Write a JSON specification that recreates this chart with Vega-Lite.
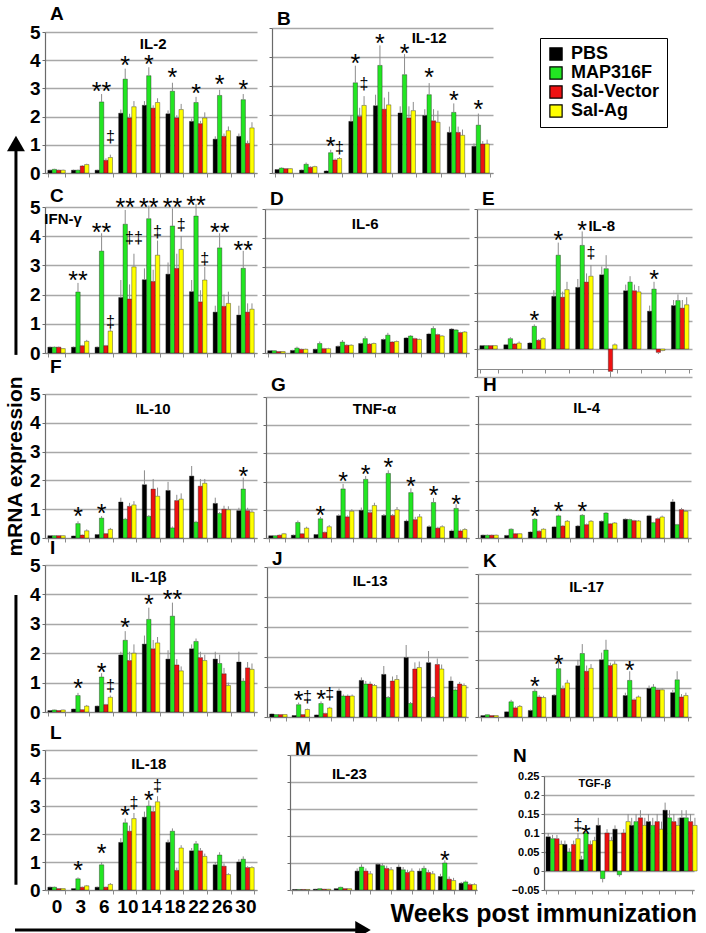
{
"$schema":"https://vega.github.io/schema/vega-lite/v6.json",
"background":"#ffffff",
"padding":{"left":4,"top":5,"right":0,"bottom":0},
"bounds":"flush",
"spacing":0,
"config":{
"font":"Liberation Sans",
"view":{"stroke":null},
"axis":{"labelFont":"Liberation Sans","labelFontWeight":"bold","labelColor":"#000000","titleFont":"Liberation Sans","titleFontWeight":"bold","titleColor":"#000000","labelOverlap":false},
"axisX":{"tickBand":"extent","tickSize":4,"labelFontSize":19,"labelAngle":0,"labelPadding":3,"domainColor":"#8a8a8a","tickColor":"#8a8a8a","grid":false},
"axisY":{"grid":true,"gridColor":"#a8a8a8","gridWidth":1.5,"tickSize":3,"labelFontSize":19,"labelPadding":2,"domainColor":"#6a6a6a","tickColor":"#6a6a6a","domainWidth":1.2,"labelOverlap":false},
"title":{"anchor":"start","font":"Liberation Sans","fontSize":19,"fontWeight":"bold","color":"#000000","offset":-1,"dx":5,"frame":"group"},
"text":{"font":"Liberation Sans","color":"#000000"},
"legend":{"orient":"none","legendX":495,"legendY":10,"strokeColor":"#000000","padding":7,"symbolType":"square","symbolSize":150,"symbolStrokeColor":"#000000","symbolStrokeWidth":1.2,"labelFont":"Liberation Sans","labelFontSize":18,"labelFontWeight":"bold","labelColor":"#000000","labelOffset":6,"rowPadding":1}
},
"datasets":{
"bars":[
{"p":"A","w":0,"g":"PBS","v":0.1,"h":0.12},{"p":"A","w":0,"g":"MAP316F","v":0.13,"h":0.15},{"p":"A","w":0,"g":"Sal-Vector","v":0.1,"h":0.12},{"p":"A","w":0,"g":"Sal-Ag","v":0.1,"h":0.12},
{"p":"A","w":3,"g":"PBS","v":0.1,"h":0.12},{"p":"A","w":3,"g":"MAP316F","v":0.1,"h":0.12},{"p":"A","w":3,"g":"Sal-Vector","v":0.25,"h":0.28},{"p":"A","w":3,"g":"Sal-Ag","v":0.3,"h":0.33},
{"p":"A","w":6,"g":"PBS","v":0.1,"h":0.12},{"p":"A","w":6,"g":"MAP316F","v":2.52,"h":2.8},{"p":"A","w":6,"g":"Sal-Vector","v":0.45,"h":0.52},{"p":"A","w":6,"g":"Sal-Ag","v":0.55,"h":0.65},
{"p":"A","w":10,"g":"PBS","v":2.12,"h":2.25},{"p":"A","w":10,"g":"MAP316F","v":3.33,"h":3.7},{"p":"A","w":10,"g":"Sal-Vector","v":1.95,"h":2.1},{"p":"A","w":10,"g":"Sal-Ag","v":2.35,"h":2.55},
{"p":"A","w":14,"g":"PBS","v":2.4,"h":2.55},{"p":"A","w":14,"g":"MAP316F","v":3.45,"h":3.75},{"p":"A","w":14,"g":"Sal-Vector","v":2.3,"h":2.4},{"p":"A","w":14,"g":"Sal-Ag","v":2.5,"h":2.65},
{"p":"A","w":18,"g":"PBS","v":2.1,"h":2.22},{"p":"A","w":18,"g":"MAP316F","v":2.9,"h":3.2},{"p":"A","w":18,"g":"Sal-Vector","v":1.95,"h":2.05},{"p":"A","w":18,"g":"Sal-Ag","v":2.25,"h":2.45},
{"p":"A","w":22,"g":"PBS","v":1.83,"h":1.93},{"p":"A","w":22,"g":"MAP316F","v":2.5,"h":2.7},{"p":"A","w":22,"g":"Sal-Vector","v":1.75,"h":1.85},{"p":"A","w":22,"g":"Sal-Ag","v":1.95,"h":2.15},
{"p":"A","w":26,"g":"PBS","v":1.2,"h":1.3},{"p":"A","w":26,"g":"MAP316F","v":2.75,"h":2.95},{"p":"A","w":26,"g":"Sal-Vector","v":1.3,"h":1.4},{"p":"A","w":26,"g":"Sal-Ag","v":1.5,"h":1.65},
{"p":"A","w":30,"g":"PBS","v":1.3,"h":1.4},{"p":"A","w":30,"g":"MAP316F","v":2.6,"h":2.8},{"p":"A","w":30,"g":"Sal-Vector","v":1.05,"h":1.15},{"p":"A","w":30,"g":"Sal-Ag","v":1.6,"h":1.8},
{"p":"B","w":0,"g":"PBS","v":0.12,"h":0.14},{"p":"B","w":0,"g":"MAP316F","v":0.17,"h":0.19},{"p":"B","w":0,"g":"Sal-Vector","v":0.15,"h":0.17},{"p":"B","w":0,"g":"Sal-Ag","v":0.15,"h":0.17},
{"p":"B","w":3,"g":"PBS","v":0.1,"h":0.12},{"p":"B","w":3,"g":"MAP316F","v":0.3,"h":0.36},{"p":"B","w":3,"g":"Sal-Vector","v":0.2,"h":0.23},{"p":"B","w":3,"g":"Sal-Ag","v":0.22,"h":0.25},
{"p":"B","w":6,"g":"PBS","v":0.07,"h":0.09},{"p":"B","w":6,"g":"MAP316F","v":0.7,"h":0.8},{"p":"B","w":6,"g":"Sal-Vector","v":0.45,"h":0.5},{"p":"B","w":6,"g":"Sal-Ag","v":0.5,"h":0.55},
{"p":"B","w":10,"g":"PBS","v":1.78,"h":2.0},{"p":"B","w":10,"g":"MAP316F","v":3.11,"h":3.7},{"p":"B","w":10,"g":"Sal-Vector","v":1.95,"h":2.25},{"p":"B","w":10,"g":"Sal-Ag","v":2.33,"h":2.65},
{"p":"B","w":14,"g":"PBS","v":2.32,"h":2.7},{"p":"B","w":14,"g":"MAP316F","v":3.71,"h":4.4},{"p":"B","w":14,"g":"Sal-Vector","v":2.2,"h":2.6},{"p":"B","w":14,"g":"Sal-Ag","v":2.35,"h":2.8},
{"p":"B","w":18,"g":"PBS","v":2.07,"h":2.3},{"p":"B","w":18,"g":"MAP316F","v":3.39,"h":4.1},{"p":"B","w":18,"g":"Sal-Vector","v":1.9,"h":2.3},{"p":"B","w":18,"g":"Sal-Ag","v":2.15,"h":2.45},
{"p":"B","w":22,"g":"PBS","v":1.98,"h":2.2},{"p":"B","w":22,"g":"MAP316F","v":2.7,"h":3.1},{"p":"B","w":22,"g":"Sal-Vector","v":1.8,"h":2.2},{"p":"B","w":22,"g":"Sal-Ag","v":1.75,"h":2.15},
{"p":"B","w":26,"g":"PBS","v":1.4,"h":1.6},{"p":"B","w":26,"g":"MAP316F","v":2.09,"h":2.4},{"p":"B","w":26,"g":"Sal-Vector","v":1.4,"h":1.6},{"p":"B","w":26,"g":"Sal-Ag","v":1.3,"h":1.5},
{"p":"B","w":30,"g":"PBS","v":0.92,"h":1.02},{"p":"B","w":30,"g":"MAP316F","v":1.65,"h":2.05},{"p":"B","w":30,"g":"Sal-Vector","v":1.0,"h":1.1},{"p":"B","w":30,"g":"Sal-Ag","v":1.0,"h":1.15},
{"p":"C","w":0,"g":"PBS","v":0.2,"h":0.22},{"p":"C","w":0,"g":"MAP316F","v":0.2,"h":0.22},{"p":"C","w":0,"g":"Sal-Vector","v":0.2,"h":0.22},{"p":"C","w":0,"g":"Sal-Ag","v":0.15,"h":0.17},
{"p":"C","w":3,"g":"PBS","v":0.2,"h":0.22},{"p":"C","w":3,"g":"MAP316F","v":2.09,"h":2.4},{"p":"C","w":3,"g":"Sal-Vector","v":0.25,"h":0.28},{"p":"C","w":3,"g":"Sal-Ag","v":0.4,"h":0.45},
{"p":"C","w":6,"g":"PBS","v":0.2,"h":0.22},{"p":"C","w":6,"g":"MAP316F","v":3.49,"h":4.1},{"p":"C","w":6,"g":"Sal-Vector","v":0.25,"h":0.28},{"p":"C","w":6,"g":"Sal-Ag","v":0.75,"h":0.9},
{"p":"C","w":10,"g":"PBS","v":1.9,"h":2.5},{"p":"C","w":10,"g":"MAP316F","v":4.41,"h":4.9},{"p":"C","w":10,"g":"Sal-Vector","v":1.85,"h":2.35},{"p":"C","w":10,"g":"Sal-Ag","v":2.95,"h":3.4},
{"p":"C","w":14,"g":"PBS","v":2.51,"h":2.9},{"p":"C","w":14,"g":"MAP316F","v":4.6,"h":5.05},{"p":"C","w":14,"g":"Sal-Vector","v":2.45,"h":2.85},{"p":"C","w":14,"g":"Sal-Ag","v":3.35,"h":3.85},
{"p":"C","w":18,"g":"PBS","v":2.7,"h":3.1},{"p":"C","w":18,"g":"MAP316F","v":4.35,"h":4.95},{"p":"C","w":18,"g":"Sal-Vector","v":2.9,"h":3.4},{"p":"C","w":18,"g":"Sal-Ag","v":3.55,"h":4.0},
{"p":"C","w":22,"g":"PBS","v":2.1,"h":2.5},{"p":"C","w":22,"g":"MAP316F","v":4.69,"h":5.1},{"p":"C","w":22,"g":"Sal-Vector","v":1.75,"h":2.15},{"p":"C","w":22,"g":"Sal-Ag","v":2.5,"h":2.95},
{"p":"C","w":26,"g":"PBS","v":1.4,"h":1.62},{"p":"C","w":26,"g":"MAP316F","v":3.6,"h":4.1},{"p":"C","w":26,"g":"Sal-Vector","v":1.6,"h":2.0},{"p":"C","w":26,"g":"Sal-Ag","v":1.7,"h":2.1},
{"p":"C","w":30,"g":"PBS","v":1.3,"h":1.62},{"p":"C","w":30,"g":"MAP316F","v":2.9,"h":3.5},{"p":"C","w":30,"g":"Sal-Vector","v":1.4,"h":1.7},{"p":"C","w":30,"g":"Sal-Ag","v":1.5,"h":1.7},
{"p":"D","w":0,"g":"PBS","v":0.08,"h":0.1},{"p":"D","w":0,"g":"MAP316F","v":0.08,"h":0.1},{"p":"D","w":0,"g":"Sal-Vector","v":0.05,"h":0.07},{"p":"D","w":0,"g":"Sal-Ag","v":0.05,"h":0.07},
{"p":"D","w":3,"g":"PBS","v":0.09,"h":0.11},{"p":"D","w":3,"g":"MAP316F","v":0.17,"h":0.22},{"p":"D","w":3,"g":"Sal-Vector","v":0.13,"h":0.15},{"p":"D","w":3,"g":"Sal-Ag","v":0.13,"h":0.15},
{"p":"D","w":6,"g":"PBS","v":0.13,"h":0.15},{"p":"D","w":6,"g":"MAP316F","v":0.33,"h":0.4},{"p":"D","w":6,"g":"Sal-Vector","v":0.15,"h":0.18},{"p":"D","w":6,"g":"Sal-Ag","v":0.15,"h":0.18},
{"p":"D","w":10,"g":"PBS","v":0.23,"h":0.26},{"p":"D","w":10,"g":"MAP316F","v":0.38,"h":0.45},{"p":"D","w":10,"g":"Sal-Vector","v":0.27,"h":0.3},{"p":"D","w":10,"g":"Sal-Ag","v":0.27,"h":0.3},
{"p":"D","w":14,"g":"PBS","v":0.33,"h":0.36},{"p":"D","w":14,"g":"MAP316F","v":0.5,"h":0.58},{"p":"D","w":14,"g":"Sal-Vector","v":0.31,"h":0.34},{"p":"D","w":14,"g":"Sal-Ag","v":0.33,"h":0.36},
{"p":"D","w":18,"g":"PBS","v":0.47,"h":0.5},{"p":"D","w":18,"g":"MAP316F","v":0.62,"h":0.7},{"p":"D","w":18,"g":"Sal-Vector","v":0.38,"h":0.41},{"p":"D","w":18,"g":"Sal-Ag","v":0.4,"h":0.43},
{"p":"D","w":22,"g":"PBS","v":0.52,"h":0.55},{"p":"D","w":22,"g":"MAP316F","v":0.59,"h":0.62},{"p":"D","w":22,"g":"Sal-Vector","v":0.5,"h":0.53},{"p":"D","w":22,"g":"Sal-Ag","v":0.47,"h":0.5},
{"p":"D","w":26,"g":"PBS","v":0.66,"h":0.7},{"p":"D","w":26,"g":"MAP316F","v":0.85,"h":0.93},{"p":"D","w":26,"g":"Sal-Vector","v":0.64,"h":0.67},{"p":"D","w":26,"g":"Sal-Ag","v":0.59,"h":0.62},
{"p":"D","w":30,"g":"PBS","v":0.83,"h":0.86},{"p":"D","w":30,"g":"MAP316F","v":0.8,"h":0.83},{"p":"D","w":30,"g":"Sal-Vector","v":0.71,"h":0.74},{"p":"D","w":30,"g":"Sal-Ag","v":0.73,"h":0.76},
{"p":"E","w":0,"g":"PBS","v":0.12,"h":0.14},{"p":"E","w":0,"g":"MAP316F","v":0.12,"h":0.14},{"p":"E","w":0,"g":"Sal-Vector","v":0.12,"h":0.14},{"p":"E","w":0,"g":"Sal-Ag","v":0.12,"h":0.14},
{"p":"E","w":3,"g":"PBS","v":0.15,"h":0.18},{"p":"E","w":3,"g":"MAP316F","v":0.37,"h":0.42},{"p":"E","w":3,"g":"Sal-Vector","v":0.18,"h":0.21},{"p":"E","w":3,"g":"Sal-Ag","v":0.21,"h":0.27},
{"p":"E","w":6,"g":"PBS","v":0.21,"h":0.25},{"p":"E","w":6,"g":"MAP316F","v":0.81,"h":0.88},{"p":"E","w":6,"g":"Sal-Vector","v":0.31,"h":0.35},{"p":"E","w":6,"g":"Sal-Ag","v":0.37,"h":0.42},
{"p":"E","w":10,"g":"PBS","v":1.88,"h":2.1},{"p":"E","w":10,"g":"MAP316F","v":3.35,"h":3.8},{"p":"E","w":10,"g":"Sal-Vector","v":1.85,"h":2.05},{"p":"E","w":10,"g":"Sal-Ag","v":2.12,"h":2.4},
{"p":"E","w":14,"g":"PBS","v":2.2,"h":2.5},{"p":"E","w":14,"g":"MAP316F","v":3.7,"h":4.2},{"p":"E","w":14,"g":"Sal-Vector","v":2.39,"h":2.7},{"p":"E","w":14,"g":"Sal-Ag","v":2.6,"h":3.0},
{"p":"E","w":18,"g":"PBS","v":2.65,"h":2.95},{"p":"E","w":18,"g":"MAP316F","v":2.87,"h":3.35},{"p":"E","w":18,"g":"Sal-Vector","v":-0.8,"h":-1.0},{"p":"E","w":18,"g":"Sal-Ag","v":0.15,"h":0.2},
{"p":"E","w":22,"g":"PBS","v":2.08,"h":2.3},{"p":"E","w":22,"g":"MAP316F","v":2.39,"h":2.6},{"p":"E","w":22,"g":"Sal-Vector","v":2.08,"h":2.3},{"p":"E","w":22,"g":"Sal-Ag","v":2.04,"h":2.25},
{"p":"E","w":26,"g":"PBS","v":1.35,"h":1.55},{"p":"E","w":26,"g":"MAP316F","v":2.14,"h":2.4},{"p":"E","w":26,"g":"Sal-Vector","v":-0.12,"h":-0.18},{"p":"E","w":26,"g":"Sal-Ag","v":-0.05,"h":-0.08},
{"p":"E","w":30,"g":"PBS","v":1.55,"h":1.75},{"p":"E","w":30,"g":"MAP316F","v":1.73,"h":1.95},{"p":"E","w":30,"g":"Sal-Vector","v":1.46,"h":1.75},{"p":"E","w":30,"g":"Sal-Ag","v":1.58,"h":1.85},
{"p":"F","w":0,"g":"PBS","v":0.08,"h":0.1},{"p":"F","w":0,"g":"MAP316F","v":0.08,"h":0.1},{"p":"F","w":0,"g":"Sal-Vector","v":0.08,"h":0.1},{"p":"F","w":0,"g":"Sal-Ag","v":0.08,"h":0.1},
{"p":"F","w":3,"g":"PBS","v":0.07,"h":0.08},{"p":"F","w":3,"g":"MAP316F","v":0.5,"h":0.58},{"p":"F","w":3,"g":"Sal-Vector","v":0.1,"h":0.12},{"p":"F","w":3,"g":"Sal-Ag","v":0.25,"h":0.3},
{"p":"F","w":6,"g":"PBS","v":0.12,"h":0.14},{"p":"F","w":6,"g":"MAP316F","v":0.69,"h":0.76},{"p":"F","w":6,"g":"Sal-Vector","v":0.15,"h":0.17},{"p":"F","w":6,"g":"Sal-Ag","v":0.3,"h":0.35},
{"p":"F","w":10,"g":"PBS","v":1.25,"h":1.4},{"p":"F","w":10,"g":"MAP316F","v":0.65,"h":0.7},{"p":"F","w":10,"g":"Sal-Vector","v":1.1,"h":1.22},{"p":"F","w":10,"g":"Sal-Ag","v":1.15,"h":1.28},
{"p":"F","w":14,"g":"PBS","v":1.85,"h":2.35},{"p":"F","w":14,"g":"MAP316F","v":0.75,"h":0.8},{"p":"F","w":14,"g":"Sal-Vector","v":1.7,"h":2.05},{"p":"F","w":14,"g":"Sal-Ag","v":1.45,"h":1.75},
{"p":"F","w":18,"g":"PBS","v":1.65,"h":1.95},{"p":"F","w":18,"g":"MAP316F","v":0.35,"h":0.4},{"p":"F","w":18,"g":"Sal-Vector","v":1.3,"h":1.5},{"p":"F","w":18,"g":"Sal-Ag","v":1.35,"h":1.55},
{"p":"F","w":22,"g":"PBS","v":2.15,"h":2.5},{"p":"F","w":22,"g":"MAP316F","v":0.55,"h":0.6},{"p":"F","w":22,"g":"Sal-Vector","v":1.8,"h":2.05},{"p":"F","w":22,"g":"Sal-Ag","v":1.9,"h":2.05},
{"p":"F","w":26,"g":"PBS","v":1.2,"h":1.4},{"p":"F","w":26,"g":"MAP316F","v":0.85,"h":0.9},{"p":"F","w":26,"g":"Sal-Vector","v":1.0,"h":1.12},{"p":"F","w":26,"g":"Sal-Ag","v":0.98,"h":1.1},
{"p":"F","w":30,"g":"PBS","v":0.95,"h":1.05},{"p":"F","w":30,"g":"MAP316F","v":1.7,"h":2.1},{"p":"F","w":30,"g":"Sal-Vector","v":0.95,"h":1.05},{"p":"F","w":30,"g":"Sal-Ag","v":0.9,"h":0.98},
{"p":"G","w":0,"g":"PBS","v":0.08,"h":0.1},{"p":"G","w":0,"g":"MAP316F","v":0.08,"h":0.1},{"p":"G","w":0,"g":"Sal-Vector","v":0.1,"h":0.12},{"p":"G","w":0,"g":"Sal-Ag","v":0.15,"h":0.18},
{"p":"G","w":3,"g":"PBS","v":0.1,"h":0.12},{"p":"G","w":3,"g":"MAP316F","v":0.55,"h":0.62},{"p":"G","w":3,"g":"Sal-Vector","v":0.15,"h":0.18},{"p":"G","w":3,"g":"Sal-Ag","v":0.35,"h":0.4},
{"p":"G","w":6,"g":"PBS","v":0.12,"h":0.14},{"p":"G","w":6,"g":"MAP316F","v":0.68,"h":0.75},{"p":"G","w":6,"g":"Sal-Vector","v":0.2,"h":0.23},{"p":"G","w":6,"g":"Sal-Ag","v":0.4,"h":0.46},
{"p":"G","w":10,"g":"PBS","v":0.79,"h":0.84},{"p":"G","w":10,"g":"MAP316F","v":1.74,"h":1.92},{"p":"G","w":10,"g":"Sal-Vector","v":0.75,"h":0.8},{"p":"G","w":10,"g":"Sal-Ag","v":0.95,"h":1.02},
{"p":"G","w":14,"g":"PBS","v":0.98,"h":1.08},{"p":"G","w":14,"g":"MAP316F","v":2.08,"h":2.2},{"p":"G","w":14,"g":"Sal-Vector","v":0.9,"h":1.0},{"p":"G","w":14,"g":"Sal-Ag","v":1.15,"h":1.25},
{"p":"G","w":18,"g":"PBS","v":0.8,"h":0.85},{"p":"G","w":18,"g":"MAP316F","v":2.29,"h":2.4},{"p":"G","w":18,"g":"Sal-Vector","v":0.8,"h":0.85},{"p":"G","w":18,"g":"Sal-Ag","v":1.0,"h":1.1},
{"p":"G","w":22,"g":"PBS","v":0.6,"h":0.65},{"p":"G","w":22,"g":"MAP316F","v":1.61,"h":1.76},{"p":"G","w":22,"g":"Sal-Vector","v":0.65,"h":0.75},{"p":"G","w":22,"g":"Sal-Ag","v":0.75,"h":0.85},
{"p":"G","w":26,"g":"PBS","v":0.4,"h":0.45},{"p":"G","w":26,"g":"MAP316F","v":1.26,"h":1.42},{"p":"G","w":26,"g":"Sal-Vector","v":0.35,"h":0.4},{"p":"G","w":26,"g":"Sal-Ag","v":0.4,"h":0.45},
{"p":"G","w":30,"g":"PBS","v":0.25,"h":0.3},{"p":"G","w":30,"g":"MAP316F","v":1.05,"h":1.2},{"p":"G","w":30,"g":"Sal-Vector","v":0.25,"h":0.3},{"p":"G","w":30,"g":"Sal-Ag","v":0.3,"h":0.35},
{"p":"H","w":0,"g":"PBS","v":0.1,"h":0.12},{"p":"H","w":0,"g":"MAP316F","v":0.1,"h":0.12},{"p":"H","w":0,"g":"Sal-Vector","v":0.1,"h":0.12},{"p":"H","w":0,"g":"Sal-Ag","v":0.1,"h":0.12},
{"p":"H","w":3,"g":"PBS","v":0.09,"h":0.11},{"p":"H","w":3,"g":"MAP316F","v":0.31,"h":0.34},{"p":"H","w":3,"g":"Sal-Vector","v":0.15,"h":0.17},{"p":"H","w":3,"g":"Sal-Ag","v":0.15,"h":0.17},
{"p":"H","w":6,"g":"PBS","v":0.21,"h":0.23},{"p":"H","w":6,"g":"MAP316F","v":0.66,"h":0.7},{"p":"H","w":6,"g":"Sal-Vector","v":0.24,"h":0.27},{"p":"H","w":6,"g":"Sal-Ag","v":0.31,"h":0.34},
{"p":"H","w":10,"g":"PBS","v":0.39,"h":0.43},{"p":"H","w":10,"g":"MAP316F","v":0.78,"h":0.82},{"p":"H","w":10,"g":"Sal-Vector","v":0.42,"h":0.46},{"p":"H","w":10,"g":"Sal-Ag","v":0.59,"h":0.63},
{"p":"H","w":14,"g":"PBS","v":0.42,"h":0.46},{"p":"H","w":14,"g":"MAP316F","v":0.8,"h":0.84},{"p":"H","w":14,"g":"Sal-Vector","v":0.47,"h":0.51},{"p":"H","w":14,"g":"Sal-Ag","v":0.59,"h":0.63},
{"p":"H","w":18,"g":"PBS","v":0.59,"h":0.62},{"p":"H","w":18,"g":"MAP316F","v":0.88,"h":0.91},{"p":"H","w":18,"g":"Sal-Vector","v":0.5,"h":0.53},{"p":"H","w":18,"g":"Sal-Ag","v":0.53,"h":0.56},
{"p":"H","w":22,"g":"PBS","v":0.66,"h":0.69},{"p":"H","w":22,"g":"MAP316F","v":0.65,"h":0.68},{"p":"H","w":22,"g":"Sal-Vector","v":0.61,"h":0.64},{"p":"H","w":22,"g":"Sal-Ag","v":0.6,"h":0.63},
{"p":"H","w":26,"g":"PBS","v":0.78,"h":0.82},{"p":"H","w":26,"g":"MAP316F","v":0.54,"h":0.57},{"p":"H","w":26,"g":"Sal-Vector","v":0.68,"h":0.72},{"p":"H","w":26,"g":"Sal-Ag","v":0.74,"h":0.79},
{"p":"H","w":30,"g":"PBS","v":1.27,"h":1.37},{"p":"H","w":30,"g":"MAP316F","v":0.47,"h":0.5},{"p":"H","w":30,"g":"Sal-Vector","v":1.0,"h":1.06},{"p":"H","w":30,"g":"Sal-Ag","v":0.94,"h":0.99},
{"p":"I","w":0,"g":"PBS","v":0.05,"h":0.06},{"p":"I","w":0,"g":"MAP316F","v":0.07,"h":0.08},{"p":"I","w":0,"g":"Sal-Vector","v":0.05,"h":0.06},{"p":"I","w":0,"g":"Sal-Ag","v":0.07,"h":0.08},
{"p":"I","w":3,"g":"PBS","v":0.1,"h":0.11},{"p":"I","w":3,"g":"MAP316F","v":0.56,"h":0.65},{"p":"I","w":3,"g":"Sal-Vector","v":0.08,"h":0.09},{"p":"I","w":3,"g":"Sal-Ag","v":0.2,"h":0.24},
{"p":"I","w":6,"g":"PBS","v":0.2,"h":0.22},{"p":"I","w":6,"g":"MAP316F","v":1.19,"h":1.32},{"p":"I","w":6,"g":"Sal-Vector","v":0.25,"h":0.28},{"p":"I","w":6,"g":"Sal-Ag","v":0.5,"h":0.56},
{"p":"I","w":10,"g":"PBS","v":1.94,"h":2.05},{"p":"I","w":10,"g":"MAP316F","v":2.44,"h":2.75},{"p":"I","w":10,"g":"Sal-Vector","v":1.75,"h":2.05},{"p":"I","w":10,"g":"Sal-Ag","v":2.0,"h":2.3},
{"p":"I","w":14,"g":"PBS","v":2.31,"h":2.6},{"p":"I","w":14,"g":"MAP316F","v":3.15,"h":3.55},{"p":"I","w":14,"g":"Sal-Vector","v":2.15,"h":2.45},{"p":"I","w":14,"g":"Sal-Ag","v":2.35,"h":2.55},
{"p":"I","w":18,"g":"PBS","v":1.8,"h":2.1},{"p":"I","w":18,"g":"MAP316F","v":3.26,"h":3.72},{"p":"I","w":18,"g":"Sal-Vector","v":1.6,"h":1.8},{"p":"I","w":18,"g":"Sal-Ag","v":1.4,"h":1.55},
{"p":"I","w":22,"g":"PBS","v":2.15,"h":2.3},{"p":"I","w":22,"g":"MAP316F","v":2.4,"h":2.5},{"p":"I","w":22,"g":"Sal-Vector","v":1.85,"h":2.05},{"p":"I","w":22,"g":"Sal-Ag","v":1.75,"h":1.95},
{"p":"I","w":26,"g":"PBS","v":1.8,"h":2.05},{"p":"I","w":26,"g":"MAP316F","v":1.65,"h":1.95},{"p":"I","w":26,"g":"Sal-Vector","v":1.3,"h":1.5},{"p":"I","w":26,"g":"Sal-Ag","v":0.9,"h":1.0},
{"p":"I","w":30,"g":"PBS","v":1.7,"h":2.05},{"p":"I","w":30,"g":"MAP316F","v":1.05,"h":1.15},{"p":"I","w":30,"g":"Sal-Vector","v":1.5,"h":1.7},{"p":"I","w":30,"g":"Sal-Ag","v":1.45,"h":1.65},
{"p":"J","w":0,"g":"PBS","v":0.1,"h":0.11},{"p":"J","w":0,"g":"MAP316F","v":0.08,"h":0.09},{"p":"J","w":0,"g":"Sal-Vector","v":0.08,"h":0.09},{"p":"J","w":0,"g":"Sal-Ag","v":0.08,"h":0.09},
{"p":"J","w":3,"g":"PBS","v":0.05,"h":0.06},{"p":"J","w":3,"g":"MAP316F","v":0.41,"h":0.48},{"p":"J","w":3,"g":"Sal-Vector","v":0.08,"h":0.09},{"p":"J","w":3,"g":"Sal-Ag","v":0.25,"h":0.28},
{"p":"J","w":6,"g":"PBS","v":0.07,"h":0.08},{"p":"J","w":6,"g":"MAP316F","v":0.45,"h":0.52},{"p":"J","w":6,"g":"Sal-Vector","v":0.12,"h":0.14},{"p":"J","w":6,"g":"Sal-Ag","v":0.3,"h":0.34},
{"p":"J","w":10,"g":"PBS","v":0.87,"h":0.95},{"p":"J","w":10,"g":"MAP316F","v":0.7,"h":0.75},{"p":"J","w":10,"g":"Sal-Vector","v":0.7,"h":0.75},{"p":"J","w":10,"g":"Sal-Ag","v":0.7,"h":0.75},
{"p":"J","w":14,"g":"PBS","v":1.22,"h":1.32},{"p":"J","w":14,"g":"MAP316F","v":1.1,"h":1.2},{"p":"J","w":14,"g":"Sal-Vector","v":1.1,"h":1.18},{"p":"J","w":14,"g":"Sal-Ag","v":1.05,"h":1.1},
{"p":"J","w":18,"g":"PBS","v":1.42,"h":1.7},{"p":"J","w":18,"g":"MAP316F","v":0.65,"h":0.7},{"p":"J","w":18,"g":"Sal-Vector","v":1.2,"h":1.35},{"p":"J","w":18,"g":"Sal-Ag","v":1.25,"h":1.4},
{"p":"J","w":22,"g":"PBS","v":1.98,"h":2.4},{"p":"J","w":22,"g":"MAP316F","v":0.45,"h":0.5},{"p":"J","w":22,"g":"Sal-Vector","v":1.6,"h":1.82},{"p":"J","w":22,"g":"Sal-Ag","v":1.65,"h":1.85},
{"p":"J","w":26,"g":"PBS","v":1.81,"h":2.2},{"p":"J","w":26,"g":"MAP316F","v":0.65,"h":0.7},{"p":"J","w":26,"g":"Sal-Vector","v":1.75,"h":1.95},{"p":"J","w":26,"g":"Sal-Ag","v":1.6,"h":1.75},
{"p":"J","w":30,"g":"PBS","v":1.2,"h":1.35},{"p":"J","w":30,"g":"MAP316F","v":0.9,"h":0.95},{"p":"J","w":30,"g":"Sal-Vector","v":1.1,"h":1.17},{"p":"J","w":30,"g":"Sal-Ag","v":1.05,"h":1.12},
{"p":"K","w":0,"g":"PBS","v":0.05,"h":0.06},{"p":"K","w":0,"g":"MAP316F","v":0.08,"h":0.09},{"p":"K","w":0,"g":"Sal-Vector","v":0.05,"h":0.06},{"p":"K","w":0,"g":"Sal-Ag","v":0.05,"h":0.06},
{"p":"K","w":3,"g":"PBS","v":0.18,"h":0.2},{"p":"K","w":3,"g":"MAP316F","v":0.53,"h":0.6},{"p":"K","w":3,"g":"Sal-Vector","v":0.32,"h":0.37},{"p":"K","w":3,"g":"Sal-Ag","v":0.37,"h":0.42},
{"p":"K","w":6,"g":"PBS","v":0.23,"h":0.26},{"p":"K","w":6,"g":"MAP316F","v":0.9,"h":0.97},{"p":"K","w":6,"g":"Sal-Vector","v":0.7,"h":0.76},{"p":"K","w":6,"g":"Sal-Ag","v":0.68,"h":0.74},
{"p":"K","w":10,"g":"PBS","v":0.76,"h":0.8},{"p":"K","w":10,"g":"MAP316F","v":1.69,"h":1.95},{"p":"K","w":10,"g":"Sal-Vector","v":0.99,"h":1.1},{"p":"K","w":10,"g":"Sal-Ag","v":1.19,"h":1.3},
{"p":"K","w":14,"g":"PBS","v":1.79,"h":2.0},{"p":"K","w":14,"g":"MAP316F","v":2.22,"h":2.55},{"p":"K","w":14,"g":"Sal-Vector","v":1.6,"h":1.8},{"p":"K","w":14,"g":"Sal-Ag","v":1.7,"h":1.85},
{"p":"K","w":18,"g":"PBS","v":2.0,"h":2.25},{"p":"K","w":18,"g":"MAP316F","v":2.34,"h":2.7},{"p":"K","w":18,"g":"Sal-Vector","v":1.8,"h":1.9},{"p":"K","w":18,"g":"Sal-Ag","v":1.85,"h":1.95},
{"p":"K","w":22,"g":"PBS","v":0.75,"h":0.85},{"p":"K","w":22,"g":"MAP316F","v":1.28,"h":1.6},{"p":"K","w":22,"g":"Sal-Vector","v":0.6,"h":0.65},{"p":"K","w":22,"g":"Sal-Ag","v":0.7,"h":0.75},
{"p":"K","w":26,"g":"PBS","v":1.0,"h":1.1},{"p":"K","w":26,"g":"MAP316F","v":1.05,"h":1.15},{"p":"K","w":26,"g":"Sal-Vector","v":0.95,"h":1.0},{"p":"K","w":26,"g":"Sal-Ag","v":0.95,"h":1.0},
{"p":"K","w":30,"g":"PBS","v":0.85,"h":0.95},{"p":"K","w":30,"g":"MAP316F","v":1.3,"h":1.6},{"p":"K","w":30,"g":"Sal-Vector","v":0.7,"h":0.8},{"p":"K","w":30,"g":"Sal-Ag","v":0.75,"h":0.85},
{"p":"L","w":0,"g":"PBS","v":0.1,"h":0.12},{"p":"L","w":0,"g":"MAP316F","v":0.1,"h":0.12},{"p":"L","w":0,"g":"Sal-Vector","v":0.05,"h":0.06},{"p":"L","w":0,"g":"Sal-Ag","v":0.05,"h":0.06},
{"p":"L","w":3,"g":"PBS","v":0.05,"h":0.06},{"p":"L","w":3,"g":"MAP316F","v":0.4,"h":0.45},{"p":"L","w":3,"g":"Sal-Vector","v":0.1,"h":0.12},{"p":"L","w":3,"g":"Sal-Ag","v":0.15,"h":0.18},
{"p":"L","w":6,"g":"PBS","v":0.1,"h":0.12},{"p":"L","w":6,"g":"MAP316F","v":0.9,"h":1.0},{"p":"L","w":6,"g":"Sal-Vector","v":0.1,"h":0.12},{"p":"L","w":6,"g":"Sal-Ag","v":0.2,"h":0.25},
{"p":"L","w":10,"g":"PBS","v":1.7,"h":1.85},{"p":"L","w":10,"g":"MAP316F","v":2.4,"h":2.55},{"p":"L","w":10,"g":"Sal-Vector","v":2.1,"h":2.3},{"p":"L","w":10,"g":"Sal-Ag","v":2.55,"h":2.75},
{"p":"L","w":14,"g":"PBS","v":2.6,"h":2.8},{"p":"L","w":14,"g":"MAP316F","v":3.0,"h":3.2},{"p":"L","w":14,"g":"Sal-Vector","v":2.8,"h":3.0},{"p":"L","w":14,"g":"Sal-Ag","v":3.15,"h":3.35},
{"p":"L","w":18,"g":"PBS","v":1.7,"h":1.8},{"p":"L","w":18,"g":"MAP316F","v":2.1,"h":2.2},{"p":"L","w":18,"g":"Sal-Vector","v":0.7,"h":0.8},{"p":"L","w":18,"g":"Sal-Ag","v":1.5,"h":1.6},
{"p":"L","w":22,"g":"PBS","v":1.4,"h":1.5},{"p":"L","w":22,"g":"MAP316F","v":1.65,"h":1.75},{"p":"L","w":22,"g":"Sal-Vector","v":1.4,"h":1.5},{"p":"L","w":22,"g":"Sal-Ag","v":1.2,"h":1.3},
{"p":"L","w":26,"g":"PBS","v":0.9,"h":1.0},{"p":"L","w":26,"g":"MAP316F","v":1.25,"h":1.35},{"p":"L","w":26,"g":"Sal-Vector","v":0.85,"h":0.95},{"p":"L","w":26,"g":"Sal-Ag","v":0.55,"h":0.6},
{"p":"L","w":30,"g":"PBS","v":1.0,"h":1.1},{"p":"L","w":30,"g":"MAP316F","v":1.1,"h":1.2},{"p":"L","w":30,"g":"Sal-Vector","v":0.8,"h":0.85},{"p":"L","w":30,"g":"Sal-Ag","v":0.8,"h":0.85},
{"p":"M","w":0,"g":"PBS","v":0.02,"h":0.03},{"p":"M","w":0,"g":"MAP316F","v":0.02,"h":0.03},{"p":"M","w":0,"g":"Sal-Vector","v":0.02,"h":0.03},{"p":"M","w":0,"g":"Sal-Ag","v":0.02,"h":0.03},
{"p":"M","w":3,"g":"PBS","v":0.03,"h":0.04},{"p":"M","w":3,"g":"MAP316F","v":0.05,"h":0.06},{"p":"M","w":3,"g":"Sal-Vector","v":0.03,"h":0.04},{"p":"M","w":3,"g":"Sal-Ag","v":0.03,"h":0.04},
{"p":"M","w":6,"g":"PBS","v":0.05,"h":0.06},{"p":"M","w":6,"g":"MAP316F","v":0.1,"h":0.12},{"p":"M","w":6,"g":"Sal-Vector","v":0.05,"h":0.06},{"p":"M","w":6,"g":"Sal-Ag","v":0.05,"h":0.06},
{"p":"M","w":10,"g":"PBS","v":0.7,"h":0.8},{"p":"M","w":10,"g":"MAP316F","v":0.85,"h":0.95},{"p":"M","w":10,"g":"Sal-Vector","v":0.7,"h":0.8},{"p":"M","w":10,"g":"Sal-Ag","v":0.6,"h":0.7},
{"p":"M","w":14,"g":"PBS","v":0.95,"h":1.0},{"p":"M","w":14,"g":"MAP316F","v":0.9,"h":1.0},{"p":"M","w":14,"g":"Sal-Vector","v":0.8,"h":0.9},{"p":"M","w":14,"g":"Sal-Ag","v":0.75,"h":0.85},
{"p":"M","w":18,"g":"PBS","v":0.85,"h":0.95},{"p":"M","w":18,"g":"MAP316F","v":0.75,"h":0.85},{"p":"M","w":18,"g":"Sal-Vector","v":0.65,"h":0.75},{"p":"M","w":18,"g":"Sal-Ag","v":0.7,"h":0.8},
{"p":"M","w":22,"g":"PBS","v":0.7,"h":0.8},{"p":"M","w":22,"g":"MAP316F","v":0.8,"h":0.9},{"p":"M","w":22,"g":"Sal-Vector","v":0.65,"h":0.75},{"p":"M","w":22,"g":"Sal-Ag","v":0.6,"h":0.7},
{"p":"M","w":26,"g":"PBS","v":0.5,"h":0.6},{"p":"M","w":26,"g":"MAP316F","v":1.0,"h":1.1},{"p":"M","w":26,"g":"Sal-Vector","v":0.4,"h":0.5},{"p":"M","w":26,"g":"Sal-Ag","v":0.35,"h":0.45},
{"p":"M","w":30,"g":"PBS","v":0.25,"h":0.3},{"p":"M","w":30,"g":"MAP316F","v":0.3,"h":0.35},{"p":"M","w":30,"g":"Sal-Vector","v":0.2,"h":0.25},{"p":"M","w":30,"g":"Sal-Ag","v":0.2,"h":0.25},
{"p":"N","w":0,"g":"PBS","v":0.09,"h":0.1},{"p":"N","w":0,"g":"MAP316F","v":0.085,"h":0.095},{"p":"N","w":0,"g":"Sal-Vector","v":0.085,"h":0.095},{"p":"N","w":0,"g":"Sal-Ag","v":0.07,"h":0.08},
{"p":"N","w":3,"g":"PBS","v":0.07,"h":0.08},{"p":"N","w":3,"g":"MAP316F","v":0.05,"h":0.06},{"p":"N","w":3,"g":"Sal-Vector","v":0.07,"h":0.08},{"p":"N","w":3,"g":"Sal-Ag","v":0.085,"h":0.1},
{"p":"N","w":6,"g":"PBS","v":0.03,"h":0.04},{"p":"N","w":6,"g":"MAP316F","v":0.1,"h":0.12},{"p":"N","w":6,"g":"Sal-Vector","v":0.07,"h":0.08},{"p":"N","w":6,"g":"Sal-Ag","v":0.08,"h":0.09},
{"p":"N","w":10,"g":"PBS","v":0.12,"h":0.14},{"p":"N","w":10,"g":"MAP316F","v":-0.02,"h":-0.03},{"p":"N","w":10,"g":"Sal-Vector","v":0.1,"h":0.11},{"p":"N","w":10,"g":"Sal-Ag","v":0.08,"h":0.09},
{"p":"N","w":14,"g":"PBS","v":0.11,"h":0.12},{"p":"N","w":14,"g":"MAP316F","v":-0.01,"h":-0.015},{"p":"N","w":14,"g":"Sal-Vector","v":0.1,"h":0.11},{"p":"N","w":14,"g":"Sal-Ag","v":0.13,"h":0.15},
{"p":"N","w":18,"g":"PBS","v":0.12,"h":0.14},{"p":"N","w":18,"g":"MAP316F","v":0.13,"h":0.15},{"p":"N","w":18,"g":"Sal-Vector","v":0.14,"h":0.16},{"p":"N","w":18,"g":"Sal-Ag","v":0.12,"h":0.14},
{"p":"N","w":22,"g":"PBS","v":0.13,"h":0.15},{"p":"N","w":22,"g":"MAP316F","v":0.12,"h":0.14},{"p":"N","w":22,"g":"Sal-Vector","v":0.13,"h":0.15},{"p":"N","w":22,"g":"Sal-Ag","v":0.11,"h":0.13},
{"p":"N","w":26,"g":"PBS","v":0.16,"h":0.18},{"p":"N","w":26,"g":"MAP316F","v":0.14,"h":0.16},{"p":"N","w":26,"g":"Sal-Vector","v":0.13,"h":0.15},{"p":"N","w":26,"g":"Sal-Ag","v":0.12,"h":0.14},
{"p":"N","w":30,"g":"PBS","v":0.14,"h":0.16},{"p":"N","w":30,"g":"MAP316F","v":0.14,"h":0.16},{"p":"N","w":30,"g":"Sal-Vector","v":0.13,"h":0.15},{"p":"N","w":30,"g":"Sal-Ag","v":0.12,"h":0.14}
],
"stars":[
{"p":"A","w":6,"g":"MAP316F","v":3.1,"t":"**"},{"p":"A","w":6,"g":"Sal-Ag","v":1.28,"t":"\u2021"},{"p":"A","w":10,"g":"MAP316F","v":4.0,"t":"*"},{"p":"A","w":14,"g":"MAP316F","v":4.05,"t":"*"},{"p":"A","w":18,"g":"MAP316F","v":3.58,"t":"*"},{"p":"A","w":22,"g":"MAP316F","v":3.0,"t":"*"},{"p":"A","w":26,"g":"MAP316F","v":3.35,"t":"*"},{"p":"A","w":30,"g":"MAP316F","v":3.17,"t":"*"},
{"p":"B","w":6,"g":"MAP316F","v":1.09,"t":"*"},{"p":"B","w":6,"g":"Sal-Ag","v":0.86,"t":"\u2021"},{"p":"B","w":10,"g":"MAP316F","v":3.97,"t":"*"},{"p":"B","w":10,"g":"Sal-Ag","v":3.07,"t":"\u2021"},{"p":"B","w":14,"g":"MAP316F","v":4.65,"t":"*"},{"p":"B","w":18,"g":"MAP316F","v":4.31,"t":"*"},{"p":"B","w":22,"g":"MAP316F","v":3.5,"t":"*"},{"p":"B","w":26,"g":"MAP316F","v":2.7,"t":"*"},{"p":"B","w":30,"g":"MAP316F","v":2.38,"t":"*"},
{"p":"C","w":3,"g":"MAP316F","v":2.68,"t":"**"},{"p":"C","w":6,"g":"MAP316F","v":4.31,"t":"**"},{"p":"C","w":6,"g":"Sal-Ag","v":1.06,"t":"\u2021"},{"p":"C","w":10,"g":"MAP316F","v":5.17,"t":"**"},{"p":"C","w":10,"g":"Sal-Ag","v":3.94,"t":"\u2021\u2021"},{"p":"C","w":14,"g":"MAP316F","v":5.17,"t":"**"},{"p":"C","w":14,"g":"Sal-Ag","v":4.14,"t":"\u2021"},{"p":"C","w":18,"g":"MAP316F","v":5.17,"t":"**"},{"p":"C","w":18,"g":"Sal-Ag","v":4.37,"t":"\u2021"},{"p":"C","w":22,"g":"MAP316F","v":5.23,"t":"**"},{"p":"C","w":22,"g":"Sal-Ag","v":3.23,"t":"\u2021"},{"p":"C","w":26,"g":"MAP316F","v":4.31,"t":"**"},{"p":"C","w":30,"g":"MAP316F","v":3.69,"t":"**"},
{"p":"E","w":6,"g":"MAP316F","v":1.23,"t":"*"},{"p":"E","w":10,"g":"MAP316F","v":4.06,"t":"*"},{"p":"E","w":14,"g":"MAP316F","v":4.42,"t":"*"},{"p":"E","w":14,"g":"Sal-Ag","v":3.43,"t":"\u2021"},{"p":"E","w":26,"g":"MAP316F","v":2.69,"t":"*"},
{"p":"F","w":3,"g":"MAP316F","v":0.93,"t":"*"},{"p":"F","w":6,"g":"MAP316F","v":1.04,"t":"*"},{"p":"F","w":30,"g":"MAP316F","v":2.31,"t":"*"},
{"p":"G","w":6,"g":"MAP316F","v":1.0,"t":"*"},{"p":"G","w":10,"g":"MAP316F","v":2.2,"t":"*"},{"p":"G","w":14,"g":"MAP316F","v":2.45,"t":"*"},{"p":"G","w":18,"g":"MAP316F","v":2.7,"t":"*"},{"p":"G","w":22,"g":"MAP316F","v":2.02,"t":"*"},{"p":"G","w":26,"g":"MAP316F","v":1.7,"t":"*"},{"p":"G","w":30,"g":"MAP316F","v":1.39,"t":"*"},
{"p":"H","w":6,"g":"MAP316F","v":0.95,"t":"*"},{"p":"H","w":10,"g":"MAP316F","v":1.13,"t":"*"},{"p":"H","w":14,"g":"MAP316F","v":1.13,"t":"*"},
{"p":"I","w":3,"g":"MAP316F","v":0.97,"t":"*"},{"p":"I","w":6,"g":"MAP316F","v":1.53,"t":"*"},{"p":"I","w":6,"g":"Sal-Ag","v":0.88,"t":"\u2021"},{"p":"I","w":10,"g":"MAP316F","v":3.07,"t":"*"},{"p":"I","w":14,"g":"MAP316F","v":3.83,"t":"*"},{"p":"I","w":18,"g":"MAP316F","v":4.0,"t":"**"},
{"p":"J","w":3,"g":"MAP316F","v":0.75,"t":"*"},{"p":"J","w":3,"g":"Sal-Ag","v":0.67,"t":"\u2021"},{"p":"J","w":6,"g":"MAP316F","v":0.78,"t":"*"},{"p":"J","w":6,"g":"Sal-Ag","v":0.78,"t":"\u2021"},
{"p":"K","w":6,"g":"MAP316F","v":1.26,"t":"*"},{"p":"K","w":10,"g":"MAP316F","v":2.02,"t":"*"},{"p":"K","w":22,"g":"MAP316F","v":1.81,"t":"*"},
{"p":"L","w":3,"g":"MAP316F","v":0.9,"t":"*"},{"p":"L","w":6,"g":"MAP316F","v":1.5,"t":"*"},{"p":"L","w":10,"g":"MAP316F","v":2.85,"t":"*"},{"p":"L","w":10,"g":"Sal-Ag","v":3.1,"t":"\u2021"},{"p":"L","w":14,"g":"MAP316F","v":3.4,"t":"*"},{"p":"L","w":14,"g":"Sal-Ag","v":3.7,"t":"\u2021"},
{"p":"M","w":26,"g":"MAP316F","v":1.3,"t":"*"},
{"p":"N","w":3,"g":"Sal-Ag","v":0.12,"t":"\u2021"},{"p":"N","w":6,"g":"MAP316F","v":0.11,"t":"*"}
],
"labels":[
{"p":"A","w":14,"g":"Sal-Vector","v":4.59,"t":"IL-2"},
{"p":"B","w":22,"g":"MAP316F","v":4.65,"t":"IL-12"},
{"p":"C","w":0,"g":"Sal-Ag","v":4.6,"t":"IFN-γ"},
{"p":"D","w":14,"g":"MAP316F","v":4.48,"t":"IL-6"},
{"p":"E","w":18,"g":"PBS","v":4.4,"t":"IL-8"},
{"p":"F","w":14,"g":"Sal-Vector","v":4.49,"t":"IL-10"},
{"p":"G","w":14,"g":"Sal-Ag","v":4.59,"t":"TNF-α"},
{"p":"H","w":14,"g":"Sal-Vector","v":4.56,"t":"IL-4"},
{"p":"I","w":14,"g":"MAP316F","v":4.6,"t":"IL-1β"},
{"p":"J","w":14,"g":"Sal-Vector","v":4.54,"t":"IL-13"},
{"p":"K","w":14,"g":"Sal-Vector","v":4.53,"t":"IL-17"},
{"p":"L","w":14,"g":"MAP316F","v":4.5,"t":"IL-18"},
{"p":"M","w":6,"g":"Sal-Ag","v":4.3,"t":"IL-23"},
{"p":"N","w":6,"g":"Sal-Ag","v":0.23,"t":"TGF-β"}
]
},
"vconcat":[
{"bounds":"flush","spacing":15,"hconcat":[
{"width":212,"height":145,"title":"A","resolve":{"scale":{"x":"independent"}},"layer":[
{"layer":[
{"data":{"name":"bars"},"transform":[{"filter":"datum.p==='A'"}],"mark":{"type":"bar","stroke":"#222222","strokeWidth":0.4},"encoding":{"x":{"field":"w","type":"ordinal","scale":{"domain":[0,3,6,10,14,18,22,26,30],"paddingInner":0.26,"paddingOuter":0.12},"axis":{"title":null,"labels":false}},"xOffset":{"field":"g","type":"nominal","scale":{"domain":["PBS","MAP316F","Sal-Vector","Sal-Ag"],"paddingInner":0,"paddingOuter":0}},"y":{"field":"v","type":"quantitative","scale":{"domain":[0,5],"nice":false,"range":[145,4]},"axis":{"title":null,"values":[0,1,2,3,4,5],"tickCount":10,"format":"d","labels":true,"labelOverlap":false}},"color":{"field":"g","type":"nominal","scale":{"domain":["PBS","MAP316F","Sal-Vector","Sal-Ag"],"range":["#000000","#22e622","#ee1111","#ffff00"]},"legend":{"title":null}}}},
{"data":{"name":"bars"},"transform":[{"filter":"datum.p==='A'"}],"mark":{"type":"rule","color":"#8c8c8c","strokeWidth":1},"encoding":{"x":{"field":"w","type":"ordinal"},"xOffset":{"field":"g","type":"nominal"},"y":{"field":"v","type":"quantitative"},"y2":{"field":"h"}}},
{"data":{"name":"stars"},"transform":[{"filter":"datum.p==='A' && indexof(datum.t,'*')>=0"}],"mark":{"type":"text","fontSize":25,"baseline":"alphabetic","dy":14},"encoding":{"x":{"field":"w","type":"ordinal"},"xOffset":{"field":"g","type":"nominal"},"y":{"field":"v","type":"quantitative"},"text":{"field":"t"}}},
{"data":{"name":"stars"},"transform":[{"filter":"datum.p==='A' && indexof(datum.t,'*')<0"}],"mark":{"type":"text","fontSize":16,"baseline":"alphabetic","dy":5},"encoding":{"x":{"field":"w","type":"ordinal"},"xOffset":{"field":"g","type":"nominal"},"y":{"field":"v","type":"quantitative"},"text":{"field":"t"}}},
{"data":{"name":"labels"},"transform":[{"filter":"datum.p==='A'"}],"mark":{"type":"text","fontSize":15,"fontWeight":"bold","baseline":"middle"},"encoding":{"x":{"field":"w","type":"ordinal"},"xOffset":{"field":"g","type":"nominal"},"y":{"field":"v","type":"quantitative"},"text":{"field":"t"}}}
]},
{"data":{"values":[{}]},"mark":{"type":"rule","strokeWidth":3,"color":"#000000"},"encoding":{"x":{"datum":-0.137,"type":"quantitative","scale":{"domain":[0,1]},"axis":null},"y":{"datum":1.0,"type":"quantitative"},"y2":{"datum":-6.45}}},
{"data":{"values":[{}]},"mark":{"type":"point","shape":"triangle-up","filled":true,"size":320,"color":"#000000","opacity":1},"encoding":{"x":{"datum":-0.137,"type":"quantitative","scale":{"domain":[0,1]},"axis":null},"y":{"datum":1.05,"type":"quantitative"}}}
]},
{"width":221,"height":145,"title":"B","layer":[
{"data":{"name":"bars"},"transform":[{"filter":"datum.p==='B'"}],"mark":{"type":"bar","stroke":"#222222","strokeWidth":0.4},"encoding":{"x":{"field":"w","type":"ordinal","scale":{"domain":[0,3,6,10,14,18,22,26,30],"paddingInner":0.26,"paddingOuter":0.12},"axis":{"title":null,"labels":false}},"xOffset":{"field":"g","type":"nominal","scale":{"domain":["PBS","MAP316F","Sal-Vector","Sal-Ag"],"paddingInner":0,"paddingOuter":0}},"y":{"field":"v","type":"quantitative","scale":{"domain":[0,5],"nice":false,"range":[145,0]},"axis":{"title":null,"values":[0,1,2,3,4,5],"tickCount":10,"labels":false}},"color":{"field":"g","type":"nominal","scale":{"domain":["PBS","MAP316F","Sal-Vector","Sal-Ag"],"range":["#000000","#22e622","#ee1111","#ffff00"]},"legend":{"title":null}}}},
{"data":{"name":"bars"},"transform":[{"filter":"datum.p==='B'"}],"mark":{"type":"rule","color":"#8c8c8c","strokeWidth":1},"encoding":{"x":{"field":"w","type":"ordinal"},"xOffset":{"field":"g","type":"nominal"},"y":{"field":"v","type":"quantitative"},"y2":{"field":"h"}}},
{"data":{"name":"stars"},"transform":[{"filter":"datum.p==='B' && indexof(datum.t,'*')>=0"}],"mark":{"type":"text","fontSize":25,"baseline":"alphabetic","dy":14},"encoding":{"x":{"field":"w","type":"ordinal"},"xOffset":{"field":"g","type":"nominal"},"y":{"field":"v","type":"quantitative"},"text":{"field":"t"}}},
{"data":{"name":"stars"},"transform":[{"filter":"datum.p==='B' && indexof(datum.t,'*')<0"}],"mark":{"type":"text","fontSize":16,"baseline":"alphabetic","dy":5},"encoding":{"x":{"field":"w","type":"ordinal"},"xOffset":{"field":"g","type":"nominal"},"y":{"field":"v","type":"quantitative"},"text":{"field":"t"}}},
{"data":{"name":"labels"},"transform":[{"filter":"datum.p==='B'"}],"mark":{"type":"text","fontSize":15,"fontWeight":"bold","baseline":"middle"},"encoding":{"x":{"field":"w","type":"ordinal"},"xOffset":{"field":"g","type":"nominal"},"y":{"field":"v","type":"quantitative"},"text":{"field":"t"}}}
]}
]},
{"width":1,"height":177,"data":{"values":[]},"mark":"point","encoding":{}},
{"bounds":"flush","spacing":8,"hconcat":[
{"width":212,"height":148,"title":{"text":"C","offset":-12},"layer":[
{"data":{"name":"bars"},"transform":[{"filter":"datum.p==='C'"}],"mark":{"type":"bar","stroke":"#222222","strokeWidth":0.4},"encoding":{"x":{"field":"w","type":"ordinal","scale":{"domain":[0,3,6,10,14,18,22,26,30],"paddingInner":0.26,"paddingOuter":0.12},"axis":{"title":null,"labels":false}},"xOffset":{"field":"g","type":"nominal","scale":{"domain":["PBS","MAP316F","Sal-Vector","Sal-Ag"],"paddingInner":0,"paddingOuter":0}},"y":{"field":"v","type":"quantitative","scale":{"domain":[0,5],"nice":false,"range":[148,2]},"axis":{"title":null,"values":[0,1,2,3,4,5],"tickCount":10,"format":"d","labels":true,"labelOverlap":false}},"color":{"field":"g","type":"nominal","scale":{"domain":["PBS","MAP316F","Sal-Vector","Sal-Ag"],"range":["#000000","#22e622","#ee1111","#ffff00"]},"legend":{"title":null}}}},
{"data":{"name":"bars"},"transform":[{"filter":"datum.p==='C'"}],"mark":{"type":"rule","color":"#8c8c8c","strokeWidth":1},"encoding":{"x":{"field":"w","type":"ordinal"},"xOffset":{"field":"g","type":"nominal"},"y":{"field":"v","type":"quantitative"},"y2":{"field":"h"}}},
{"data":{"name":"stars"},"transform":[{"filter":"datum.p==='C' && indexof(datum.t,'*')>=0"}],"mark":{"type":"text","fontSize":25,"baseline":"alphabetic","dy":14},"encoding":{"x":{"field":"w","type":"ordinal"},"xOffset":{"field":"g","type":"nominal"},"y":{"field":"v","type":"quantitative"},"text":{"field":"t"}}},
{"data":{"name":"stars"},"transform":[{"filter":"datum.p==='C' && indexof(datum.t,'*')<0"}],"mark":{"type":"text","fontSize":16,"baseline":"alphabetic","dy":5},"encoding":{"x":{"field":"w","type":"ordinal"},"xOffset":{"field":"g","type":"nominal"},"y":{"field":"v","type":"quantitative"},"text":{"field":"t"}}},
{"data":{"name":"labels"},"transform":[{"filter":"datum.p==='C'"}],"mark":{"type":"text","fontSize":15,"fontWeight":"bold","baseline":"middle"},"encoding":{"x":{"field":"w","type":"ordinal"},"xOffset":{"field":"g","type":"nominal"},"y":{"field":"v","type":"quantitative"},"text":{"field":"t"}}}
]},
{"width":204,"height":148,"title":{"text":"D","offset":-4},"layer":[
{"data":{"name":"bars"},"transform":[{"filter":"datum.p==='D'"}],"mark":{"type":"bar","stroke":"#222222","strokeWidth":0.4},"encoding":{"x":{"field":"w","type":"ordinal","scale":{"domain":[0,3,6,10,14,18,22,26,30],"paddingInner":0.26,"paddingOuter":0.12},"axis":{"title":null,"labels":false}},"xOffset":{"field":"g","type":"nominal","scale":{"domain":["PBS","MAP316F","Sal-Vector","Sal-Ag"],"paddingInner":0,"paddingOuter":0}},"y":{"field":"v","type":"quantitative","scale":{"domain":[0,5],"nice":false,"range":[148,4]},"axis":{"title":null,"values":[0,1,2,3,4,5],"tickCount":10,"labels":false}},"color":{"field":"g","type":"nominal","scale":{"domain":["PBS","MAP316F","Sal-Vector","Sal-Ag"],"range":["#000000","#22e622","#ee1111","#ffff00"]},"legend":{"title":null}}}},
{"data":{"name":"bars"},"transform":[{"filter":"datum.p==='D'"}],"mark":{"type":"rule","color":"#8c8c8c","strokeWidth":1},"encoding":{"x":{"field":"w","type":"ordinal"},"xOffset":{"field":"g","type":"nominal"},"y":{"field":"v","type":"quantitative"},"y2":{"field":"h"}}},
{"data":{"name":"labels"},"transform":[{"filter":"datum.p==='D'"}],"mark":{"type":"text","fontSize":15,"fontWeight":"bold","baseline":"middle"},"encoding":{"x":{"field":"w","type":"ordinal"},"xOffset":{"field":"g","type":"nominal"},"y":{"field":"v","type":"quantitative"},"text":{"field":"t"}}}
]},
{"width":215,"height":164,"title":{"text":"E","offset":-4},"layer":[
{"data":{"name":"bars"},"transform":[{"filter":"datum.p==='E'"}],"mark":{"type":"bar","stroke":"#222222","strokeWidth":0.4},"encoding":{"x":{"field":"w","type":"ordinal","scale":{"domain":[0,3,6,10,14,18,22,26,30],"paddingInner":0.26,"paddingOuter":0.12},"axis":{"title":null,"labels":false}},"xOffset":{"field":"g","type":"nominal","scale":{"domain":["PBS","MAP316F","Sal-Vector","Sal-Ag"],"paddingInner":0,"paddingOuter":0}},"y":{"field":"v","type":"quantitative","scale":{"domain":[-1,5],"nice":false,"zero":false,"range":[172,4]},"axis":{"title":null,"values":[-1,0,1,2,3,4,5],"tickCount":10,"labels":false}},"color":{"field":"g","type":"nominal","scale":{"domain":["PBS","MAP316F","Sal-Vector","Sal-Ag"],"range":["#000000","#22e622","#ee1111","#ffff00"]},"legend":{"title":null}}}},
{"data":{"name":"bars"},"transform":[{"filter":"datum.p==='E'"}],"mark":{"type":"rule","color":"#8c8c8c","strokeWidth":1},"encoding":{"x":{"field":"w","type":"ordinal"},"xOffset":{"field":"g","type":"nominal"},"y":{"field":"v","type":"quantitative"},"y2":{"field":"h"}}},
{"data":{"name":"stars"},"transform":[{"filter":"datum.p==='E' && indexof(datum.t,'*')>=0"}],"mark":{"type":"text","fontSize":25,"baseline":"alphabetic","dy":14},"encoding":{"x":{"field":"w","type":"ordinal"},"xOffset":{"field":"g","type":"nominal"},"y":{"field":"v","type":"quantitative"},"text":{"field":"t"}}},
{"data":{"name":"stars"},"transform":[{"filter":"datum.p==='E' && indexof(datum.t,'*')<0"}],"mark":{"type":"text","fontSize":16,"baseline":"alphabetic","dy":5},"encoding":{"x":{"field":"w","type":"ordinal"},"xOffset":{"field":"g","type":"nominal"},"y":{"field":"v","type":"quantitative"},"text":{"field":"t"}}},
{"data":{"name":"labels"},"transform":[{"filter":"datum.p==='E'"}],"mark":{"type":"text","fontSize":15,"fontWeight":"bold","baseline":"middle"},"encoding":{"x":{"field":"w","type":"ordinal"},"xOffset":{"field":"g","type":"nominal"},"y":{"field":"v","type":"quantitative"},"text":{"field":"t"}}}
]}
]},
{"width":1,"height":189,"data":{"values":[]},"mark":"point","encoding":{}},
{"bounds":"flush","spacing":9,"hconcat":[
{"width":212,"height":144,"title":"F","layer":[
{"data":{"name":"bars"},"transform":[{"filter":"datum.p==='F'"}],"mark":{"type":"bar","stroke":"#222222","strokeWidth":0.4},"encoding":{"x":{"field":"w","type":"ordinal","scale":{"domain":[0,3,6,10,14,18,22,26,30],"paddingInner":0.26,"paddingOuter":0.12},"axis":{"title":null,"labels":false}},"xOffset":{"field":"g","type":"nominal","scale":{"domain":["PBS","MAP316F","Sal-Vector","Sal-Ag"],"paddingInner":0,"paddingOuter":0}},"y":{"field":"v","type":"quantitative","scale":{"domain":[0,5],"nice":false,"range":[144,0]},"axis":{"title":"mRNA expression","titleFontSize":21,"titlePadding":4,"values":[0,1,2,3,4,5],"tickCount":10,"format":"d","labels":true,"labelOverlap":false}},"color":{"field":"g","type":"nominal","scale":{"domain":["PBS","MAP316F","Sal-Vector","Sal-Ag"],"range":["#000000","#22e622","#ee1111","#ffff00"]},"legend":{"title":null}}}},
{"data":{"name":"bars"},"transform":[{"filter":"datum.p==='F'"}],"mark":{"type":"rule","color":"#8c8c8c","strokeWidth":1},"encoding":{"x":{"field":"w","type":"ordinal"},"xOffset":{"field":"g","type":"nominal"},"y":{"field":"v","type":"quantitative"},"y2":{"field":"h"}}},
{"data":{"name":"stars"},"transform":[{"filter":"datum.p==='F' && indexof(datum.t,'*')>=0"}],"mark":{"type":"text","fontSize":25,"baseline":"alphabetic","dy":14},"encoding":{"x":{"field":"w","type":"ordinal"},"xOffset":{"field":"g","type":"nominal"},"y":{"field":"v","type":"quantitative"},"text":{"field":"t"}}},
{"data":{"name":"labels"},"transform":[{"filter":"datum.p==='F'"}],"mark":{"type":"text","fontSize":15,"fontWeight":"bold","baseline":"middle"},"encoding":{"x":{"field":"w","type":"ordinal"},"xOffset":{"field":"g","type":"nominal"},"y":{"field":"v","type":"quantitative"},"text":{"field":"t"}}}
]},
{"width":203,"height":144,"title":"G","layer":[
{"data":{"name":"bars"},"transform":[{"filter":"datum.p==='G'"}],"mark":{"type":"bar","stroke":"#222222","strokeWidth":0.4},"encoding":{"x":{"field":"w","type":"ordinal","scale":{"domain":[0,3,6,10,14,18,22,26,30],"paddingInner":0.26,"paddingOuter":0.12},"axis":{"title":null,"labels":false}},"xOffset":{"field":"g","type":"nominal","scale":{"domain":["PBS","MAP316F","Sal-Vector","Sal-Ag"],"paddingInner":0,"paddingOuter":0}},"y":{"field":"v","type":"quantitative","scale":{"domain":[0,5],"nice":false,"range":[144,3]},"axis":{"title":null,"values":[0,1,2,3,4,5],"tickCount":10,"labels":false}},"color":{"field":"g","type":"nominal","scale":{"domain":["PBS","MAP316F","Sal-Vector","Sal-Ag"],"range":["#000000","#22e622","#ee1111","#ffff00"]},"legend":{"title":null}}}},
{"data":{"name":"bars"},"transform":[{"filter":"datum.p==='G'"}],"mark":{"type":"rule","color":"#8c8c8c","strokeWidth":1},"encoding":{"x":{"field":"w","type":"ordinal"},"xOffset":{"field":"g","type":"nominal"},"y":{"field":"v","type":"quantitative"},"y2":{"field":"h"}}},
{"data":{"name":"stars"},"transform":[{"filter":"datum.p==='G' && indexof(datum.t,'*')>=0"}],"mark":{"type":"text","fontSize":25,"baseline":"alphabetic","dy":14},"encoding":{"x":{"field":"w","type":"ordinal"},"xOffset":{"field":"g","type":"nominal"},"y":{"field":"v","type":"quantitative"},"text":{"field":"t"}}},
{"data":{"name":"labels"},"transform":[{"filter":"datum.p==='G'"}],"mark":{"type":"text","fontSize":15,"fontWeight":"bold","baseline":"middle"},"encoding":{"x":{"field":"w","type":"ordinal"},"xOffset":{"field":"g","type":"nominal"},"y":{"field":"v","type":"quantitative"},"text":{"field":"t"}}}
]},
{"width":213,"height":144,"title":"H","layer":[
{"data":{"name":"bars"},"transform":[{"filter":"datum.p==='H'"}],"mark":{"type":"bar","stroke":"#222222","strokeWidth":0.4},"encoding":{"x":{"field":"w","type":"ordinal","scale":{"domain":[0,3,6,10,14,18,22,26,30],"paddingInner":0.26,"paddingOuter":0.12},"axis":{"title":null,"labels":false}},"xOffset":{"field":"g","type":"nominal","scale":{"domain":["PBS","MAP316F","Sal-Vector","Sal-Ag"],"paddingInner":0,"paddingOuter":0}},"y":{"field":"v","type":"quantitative","scale":{"domain":[0,5],"nice":false,"range":[144,2]},"axis":{"title":null,"values":[0,1,2,3,4,5],"tickCount":10,"labels":false}},"color":{"field":"g","type":"nominal","scale":{"domain":["PBS","MAP316F","Sal-Vector","Sal-Ag"],"range":["#000000","#22e622","#ee1111","#ffff00"]},"legend":{"title":null}}}},
{"data":{"name":"bars"},"transform":[{"filter":"datum.p==='H'"}],"mark":{"type":"rule","color":"#8c8c8c","strokeWidth":1},"encoding":{"x":{"field":"w","type":"ordinal"},"xOffset":{"field":"g","type":"nominal"},"y":{"field":"v","type":"quantitative"},"y2":{"field":"h"}}},
{"data":{"name":"stars"},"transform":[{"filter":"datum.p==='H' && indexof(datum.t,'*')>=0"}],"mark":{"type":"text","fontSize":25,"baseline":"alphabetic","dy":14},"encoding":{"x":{"field":"w","type":"ordinal"},"xOffset":{"field":"g","type":"nominal"},"y":{"field":"v","type":"quantitative"},"text":{"field":"t"}}},
{"data":{"name":"labels"},"transform":[{"filter":"datum.p==='H'"}],"mark":{"type":"text","fontSize":15,"fontWeight":"bold","baseline":"middle"},"encoding":{"x":{"field":"w","type":"ordinal"},"xOffset":{"field":"g","type":"nominal"},"y":{"field":"v","type":"quantitative"},"text":{"field":"t"}}}
]}
]},
{"width":1,"height":171,"data":{"values":[]},"mark":"point","encoding":{}},
{"bounds":"flush","spacing":10,"hconcat":[
{"width":212,"height":147,"title":{"text":"I","offset":-2},"resolve":{"scale":{"x":"independent"}},"layer":[
{"layer":[
{"data":{"name":"bars"},"transform":[{"filter":"datum.p==='I'"}],"mark":{"type":"bar","stroke":"#222222","strokeWidth":0.4},"encoding":{"x":{"field":"w","type":"ordinal","scale":{"domain":[0,3,6,10,14,18,22,26,30],"paddingInner":0.26,"paddingOuter":0.12},"axis":{"title":null,"labels":false}},"xOffset":{"field":"g","type":"nominal","scale":{"domain":["PBS","MAP316F","Sal-Vector","Sal-Ag"],"paddingInner":0,"paddingOuter":0}},"y":{"field":"v","type":"quantitative","scale":{"domain":[0,5],"nice":false,"range":[147,0]},"axis":{"title":null,"values":[0,1,2,3,4,5],"tickCount":10,"format":"d","labels":true,"labelOverlap":false}},"color":{"field":"g","type":"nominal","scale":{"domain":["PBS","MAP316F","Sal-Vector","Sal-Ag"],"range":["#000000","#22e622","#ee1111","#ffff00"]},"legend":{"title":null}}}},
{"data":{"name":"bars"},"transform":[{"filter":"datum.p==='I'"}],"mark":{"type":"rule","color":"#8c8c8c","strokeWidth":1},"encoding":{"x":{"field":"w","type":"ordinal"},"xOffset":{"field":"g","type":"nominal"},"y":{"field":"v","type":"quantitative"},"y2":{"field":"h"}}},
{"data":{"name":"stars"},"transform":[{"filter":"datum.p==='I' && indexof(datum.t,'*')>=0"}],"mark":{"type":"text","fontSize":25,"baseline":"alphabetic","dy":14},"encoding":{"x":{"field":"w","type":"ordinal"},"xOffset":{"field":"g","type":"nominal"},"y":{"field":"v","type":"quantitative"},"text":{"field":"t"}}},
{"data":{"name":"stars"},"transform":[{"filter":"datum.p==='I' && indexof(datum.t,'*')<0"}],"mark":{"type":"text","fontSize":16,"baseline":"alphabetic","dy":5},"encoding":{"x":{"field":"w","type":"ordinal"},"xOffset":{"field":"g","type":"nominal"},"y":{"field":"v","type":"quantitative"},"text":{"field":"t"}}},
{"data":{"name":"labels"},"transform":[{"filter":"datum.p==='I'"}],"mark":{"type":"text","fontSize":15,"fontWeight":"bold","baseline":"middle"},"encoding":{"x":{"field":"w","type":"ordinal"},"xOffset":{"field":"g","type":"nominal"},"y":{"field":"v","type":"quantitative"},"text":{"field":"t"}}}
]},
{"data":{"values":[{}]},"mark":{"type":"rule","strokeWidth":3,"color":"#000000"},"encoding":{"x":{"datum":-0.137,"type":"quantitative","scale":{"domain":[0,1]},"axis":null},"y":{"datum":3.98,"type":"quantitative"},"y2":{"datum":-5.88}}}
]},
{"width":201,"height":152,"title":{"text":"J","offset":-4},"layer":[
{"data":{"name":"bars"},"transform":[{"filter":"datum.p==='J'"}],"mark":{"type":"bar","stroke":"#222222","strokeWidth":0.4},"encoding":{"x":{"field":"w","type":"ordinal","scale":{"domain":[0,3,6,10,14,18,22,26,30],"paddingInner":0.26,"paddingOuter":0.12},"axis":{"title":null,"labels":false}},"xOffset":{"field":"g","type":"nominal","scale":{"domain":["PBS","MAP316F","Sal-Vector","Sal-Ag"],"paddingInner":0,"paddingOuter":0}},"y":{"field":"v","type":"quantitative","scale":{"domain":[0,5],"nice":false,"range":[152,2]},"axis":{"title":null,"values":[0,1,2,3,4,5],"tickCount":10,"labels":false}},"color":{"field":"g","type":"nominal","scale":{"domain":["PBS","MAP316F","Sal-Vector","Sal-Ag"],"range":["#000000","#22e622","#ee1111","#ffff00"]},"legend":{"title":null}}}},
{"data":{"name":"bars"},"transform":[{"filter":"datum.p==='J'"}],"mark":{"type":"rule","color":"#8c8c8c","strokeWidth":1},"encoding":{"x":{"field":"w","type":"ordinal"},"xOffset":{"field":"g","type":"nominal"},"y":{"field":"v","type":"quantitative"},"y2":{"field":"h"}}},
{"data":{"name":"stars"},"transform":[{"filter":"datum.p==='J' && indexof(datum.t,'*')>=0"}],"mark":{"type":"text","fontSize":25,"baseline":"alphabetic","dy":14},"encoding":{"x":{"field":"w","type":"ordinal"},"xOffset":{"field":"g","type":"nominal"},"y":{"field":"v","type":"quantitative"},"text":{"field":"t"}}},
{"data":{"name":"stars"},"transform":[{"filter":"datum.p==='J' && indexof(datum.t,'*')<0"}],"mark":{"type":"text","fontSize":16,"baseline":"alphabetic","dy":5},"encoding":{"x":{"field":"w","type":"ordinal"},"xOffset":{"field":"g","type":"nominal"},"y":{"field":"v","type":"quantitative"},"text":{"field":"t"}}},
{"data":{"name":"labels"},"transform":[{"filter":"datum.p==='J'"}],"mark":{"type":"text","fontSize":15,"fontWeight":"bold","baseline":"middle"},"encoding":{"x":{"field":"w","type":"ordinal"},"xOffset":{"field":"g","type":"nominal"},"y":{"field":"v","type":"quantitative"},"text":{"field":"t"}}}
]},
{"width":213,"height":152,"title":{"text":"K","offset":-6},"layer":[
{"data":{"name":"bars"},"transform":[{"filter":"datum.p==='K'"}],"mark":{"type":"bar","stroke":"#222222","strokeWidth":0.4},"encoding":{"x":{"field":"w","type":"ordinal","scale":{"domain":[0,3,6,10,14,18,22,26,30],"paddingInner":0.26,"paddingOuter":0.12},"axis":{"title":null,"labels":false}},"xOffset":{"field":"g","type":"nominal","scale":{"domain":["PBS","MAP316F","Sal-Vector","Sal-Ag"],"paddingInner":0,"paddingOuter":0}},"y":{"field":"v","type":"quantitative","scale":{"domain":[0,5],"nice":false,"range":[152,9]},"axis":{"title":null,"values":[0,1,2,3,4,5],"tickCount":10,"labels":false}},"color":{"field":"g","type":"nominal","scale":{"domain":["PBS","MAP316F","Sal-Vector","Sal-Ag"],"range":["#000000","#22e622","#ee1111","#ffff00"]},"legend":{"title":null}}}},
{"data":{"name":"bars"},"transform":[{"filter":"datum.p==='K'"}],"mark":{"type":"rule","color":"#8c8c8c","strokeWidth":1},"encoding":{"x":{"field":"w","type":"ordinal"},"xOffset":{"field":"g","type":"nominal"},"y":{"field":"v","type":"quantitative"},"y2":{"field":"h"}}},
{"data":{"name":"stars"},"transform":[{"filter":"datum.p==='K' && indexof(datum.t,'*')>=0"}],"mark":{"type":"text","fontSize":25,"baseline":"alphabetic","dy":14},"encoding":{"x":{"field":"w","type":"ordinal"},"xOffset":{"field":"g","type":"nominal"},"y":{"field":"v","type":"quantitative"},"text":{"field":"t"}}},
{"data":{"name":"labels"},"transform":[{"filter":"datum.p==='K'"}],"mark":{"type":"text","fontSize":15,"fontWeight":"bold","baseline":"middle"},"encoding":{"x":{"field":"w","type":"ordinal"},"xOffset":{"field":"g","type":"nominal"},"y":{"field":"v","type":"quantitative"},"text":{"field":"t"}}}
]}
]},
{"width":1,"height":185,"data":{"values":[]},"mark":"point","encoding":{}},
{"bounds":"flush","spacing":33,"hconcat":[
{"width":212,"height":140,"title":{"text":"L","offset":-2},"resolve":{"scale":{"x":"independent"}},"layer":[
{"layer":[
{"data":{"name":"bars"},"transform":[{"filter":"datum.p==='L'"}],"mark":{"type":"bar","stroke":"#222222","strokeWidth":0.4},"encoding":{"x":{"field":"w","type":"ordinal","scale":{"domain":[0,3,6,10,14,18,22,26,30],"paddingInner":0.26,"paddingOuter":0.12},"axis":{"title":"Weeks post immunization","titleFontSize":25,"titleX":345,"titleY":11,"titleAlign":"left","titleBaseline":"top","labels":true,"labelOverlap":false}},"xOffset":{"field":"g","type":"nominal","scale":{"domain":["PBS","MAP316F","Sal-Vector","Sal-Ag"],"paddingInner":0,"paddingOuter":0}},"y":{"field":"v","type":"quantitative","scale":{"domain":[0,5],"nice":false,"range":[140,0]},"axis":{"title":null,"values":[0,1,2,3,4,5],"tickCount":10,"format":"d","labels":true,"labelOverlap":false}},"color":{"field":"g","type":"nominal","scale":{"domain":["PBS","MAP316F","Sal-Vector","Sal-Ag"],"range":["#000000","#22e622","#ee1111","#ffff00"]},"legend":{"title":null}}}},
{"data":{"name":"bars"},"transform":[{"filter":"datum.p==='L'"}],"mark":{"type":"rule","color":"#8c8c8c","strokeWidth":1},"encoding":{"x":{"field":"w","type":"ordinal"},"xOffset":{"field":"g","type":"nominal"},"y":{"field":"v","type":"quantitative"},"y2":{"field":"h"}}},
{"data":{"name":"stars"},"transform":[{"filter":"datum.p==='L' && indexof(datum.t,'*')>=0"}],"mark":{"type":"text","fontSize":25,"baseline":"alphabetic","dy":14},"encoding":{"x":{"field":"w","type":"ordinal"},"xOffset":{"field":"g","type":"nominal"},"y":{"field":"v","type":"quantitative"},"text":{"field":"t"}}},
{"data":{"name":"stars"},"transform":[{"filter":"datum.p==='L' && indexof(datum.t,'*')<0"}],"mark":{"type":"text","fontSize":16,"baseline":"alphabetic","dy":5},"encoding":{"x":{"field":"w","type":"ordinal"},"xOffset":{"field":"g","type":"nominal"},"y":{"field":"v","type":"quantitative"},"text":{"field":"t"}}},
{"data":{"name":"labels"},"transform":[{"filter":"datum.p==='L'"}],"mark":{"type":"text","fontSize":15,"fontWeight":"bold","baseline":"middle"},"encoding":{"x":{"field":"w","type":"ordinal"},"xOffset":{"field":"g","type":"nominal"},"y":{"field":"v","type":"quantitative"},"text":{"field":"t"}}}
]},
{"data":{"values":[{}]},"mark":{"type":"rule","strokeWidth":3,"color":"#000000"},"encoding":{"x":{"datum":-0.1415,"type":"quantitative","scale":{"domain":[0,1]},"axis":null},"x2":{"datum":1.49},"y":{"datum":-1.43,"type":"quantitative"}}},
{"data":{"values":[{}]},"mark":{"type":"point","shape":"triangle-right","filled":true,"size":320,"color":"#000000","opacity":1},"encoding":{"x":{"datum":1.5,"type":"quantitative","scale":{"domain":[0,1]},"axis":null},"y":{"datum":-1.43,"type":"quantitative"}}}
]},
{"width":187,"height":140,"title":{"text":"M","offset":-9},"layer":[
{"data":{"name":"bars"},"transform":[{"filter":"datum.p==='M'"}],"mark":{"type":"bar","stroke":"#222222","strokeWidth":0.4},"encoding":{"x":{"field":"w","type":"ordinal","scale":{"domain":[0,3,6,10,14,18,22,26,30],"paddingInner":0.26,"paddingOuter":0.12},"axis":{"title":null,"labels":false}},"xOffset":{"field":"g","type":"nominal","scale":{"domain":["PBS","MAP316F","Sal-Vector","Sal-Ag"],"paddingInner":0,"paddingOuter":0}},"y":{"field":"v","type":"quantitative","scale":{"domain":[0,5],"nice":false,"range":[140,5]},"axis":{"title":null,"values":[0,1,2,3,4,5],"tickCount":10,"labels":false}},"color":{"field":"g","type":"nominal","scale":{"domain":["PBS","MAP316F","Sal-Vector","Sal-Ag"],"range":["#000000","#22e622","#ee1111","#ffff00"]},"legend":{"title":null}}}},
{"data":{"name":"bars"},"transform":[{"filter":"datum.p==='M'"}],"mark":{"type":"rule","color":"#8c8c8c","strokeWidth":1},"encoding":{"x":{"field":"w","type":"ordinal"},"xOffset":{"field":"g","type":"nominal"},"y":{"field":"v","type":"quantitative"},"y2":{"field":"h"}}},
{"data":{"name":"stars"},"transform":[{"filter":"datum.p==='M' && indexof(datum.t,'*')>=0"}],"mark":{"type":"text","fontSize":25,"baseline":"alphabetic","dy":14},"encoding":{"x":{"field":"w","type":"ordinal"},"xOffset":{"field":"g","type":"nominal"},"y":{"field":"v","type":"quantitative"},"text":{"field":"t"}}},
{"data":{"name":"labels"},"transform":[{"filter":"datum.p==='M'"}],"mark":{"type":"text","fontSize":15,"fontWeight":"bold","baseline":"middle"},"encoding":{"x":{"field":"w","type":"ordinal"},"xOffset":{"field":"g","type":"nominal"},"y":{"field":"v","type":"quantitative"},"text":{"field":"t"}}}
]},
{"width":1,"height":1,"data":{"values":[]},"mark":"point","encoding":{}},
{"width":150,"height":140,"title":{"text":"N","offset":-16,"dx":-31},"layer":[
{"data":{"name":"bars"},"transform":[{"filter":"datum.p==='N'"}],"mark":{"type":"bar","stroke":"#222222","strokeWidth":0.4},"encoding":{"x":{"field":"w","type":"ordinal","scale":{"domain":[0,3,6,10,14,18,22,26,30],"paddingInner":0.26,"paddingOuter":0.12},"axis":{"title":null,"labels":false}},"xOffset":{"field":"g","type":"nominal","scale":{"domain":["PBS","MAP316F","Sal-Vector","Sal-Ag"],"paddingInner":0,"paddingOuter":0}},"y":{"field":"v","type":"quantitative","scale":{"domain":[-0.05,0.25],"nice":false,"zero":false,"range":[140,26]},"axis":{"title":null,"values":[-0.05,0,0.05,0.1,0.15,0.2,0.25],"tickCount":10,"labels":true,"labelFontSize":11,"format":".2~f","labelOverlap":false}},"color":{"field":"g","type":"nominal","scale":{"domain":["PBS","MAP316F","Sal-Vector","Sal-Ag"],"range":["#000000","#22e622","#ee1111","#ffff00"]},"legend":{"title":null}}}},
{"data":{"name":"bars"},"transform":[{"filter":"datum.p==='N'"}],"mark":{"type":"rule","color":"#8c8c8c","strokeWidth":1},"encoding":{"x":{"field":"w","type":"ordinal"},"xOffset":{"field":"g","type":"nominal"},"y":{"field":"v","type":"quantitative"},"y2":{"field":"h"}}},
{"data":{"name":"stars"},"transform":[{"filter":"datum.p==='N' && indexof(datum.t,'*')>=0"}],"mark":{"type":"text","fontSize":25,"baseline":"alphabetic","dy":14},"encoding":{"x":{"field":"w","type":"ordinal"},"xOffset":{"field":"g","type":"nominal"},"y":{"field":"v","type":"quantitative"},"text":{"field":"t"}}},
{"data":{"name":"stars"},"transform":[{"filter":"datum.p==='N' && indexof(datum.t,'*')<0"}],"mark":{"type":"text","fontSize":16,"baseline":"alphabetic","dy":5},"encoding":{"x":{"field":"w","type":"ordinal"},"xOffset":{"field":"g","type":"nominal"},"y":{"field":"v","type":"quantitative"},"text":{"field":"t"}}},
{"data":{"name":"labels"},"transform":[{"filter":"datum.p==='N'"}],"mark":{"type":"text","fontSize":11,"fontWeight":"bold","baseline":"middle"},"encoding":{"x":{"field":"w","type":"ordinal"},"xOffset":{"field":"g","type":"nominal"},"y":{"field":"v","type":"quantitative"},"text":{"field":"t"}}}
]}
]}
]
}
